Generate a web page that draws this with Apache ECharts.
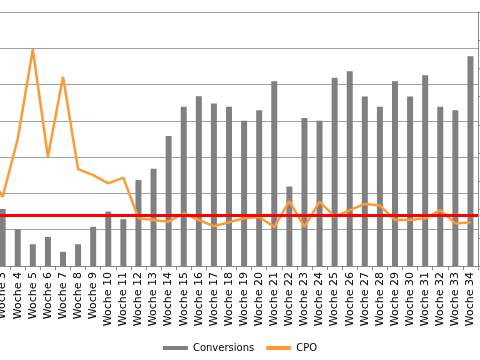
<!DOCTYPE html>
<html>
<head>
<meta charset="utf-8">
<script src="https://cdn.jsdelivr.net/npm/echarts@6/dist/echarts.min.js"></script>
<style>html,body{margin:0;padding:0;background:#fff;}#c{width:480px;height:360px;}</style>
</head>
<body>
<div id="c"></div>
<script>
var categories = ['Woche 2','Woche 3','Woche 4','Woche 5','Woche 6','Woche 7','Woche 8','Woche 9','Woche 10','Woche 11','Woche 12','Woche 13','Woche 14','Woche 15','Woche 16','Woche 17','Woche 18','Woche 19','Woche 20','Woche 21','Woche 22','Woche 23','Woche 24','Woche 25','Woche 26','Woche 27','Woche 28','Woche 29','Woche 30','Woche 31','Woche 32','Woche 33','Woche 34'];
var conversions = [null,15.7,10.1,6.0,8.0,3.9,6.0,10.8,15.0,12.9,23.7,26.8,35.8,43.9,46.8,44.8,43.9,40.0,42.9,50.9,21.9,40.8,40.0,51.9,53.7,46.7,43.9,50.9,46.7,52.6,43.9,42.9,57.8];
var cpo = [33.7,24.5,45.0,76.8,38.7,67.1,34.3,32.2,29.3,31.3,16.9,16.3,15.7,18.7,16.3,14.1,15.5,16.9,17.4,13.8,23.0,13.9,22.8,17.5,19.8,22.0,21.4,16.3,16.3,16.9,19.8,15.1,15.5];
var cpoTarget = 18;
var leftAxisTicks = [0,10,20,30,40,50,60,70];
var rightAxisTicks = [0,10,20,30,40,50,60,70,80,90];

var chart = echarts.init(document.getElementById('c'), null, {renderer:'canvas'});
chart.setOption({
  animation:false,
  backgroundColor:'#ffffff',
  textStyle:{fontFamily:'DejaVu Sans'},
  grid:{left:-20,right:2,top:12,bottom:94,containLabel:false,outerBoundsMode:'none'},
  legend:{
    top:338,left:'center',
    itemWidth:25,itemHeight:4,itemGap:12,
    textStyle:{fontSize:10,color:'#000',fontFamily:'DejaVu Sans'},
    data:[{name:'Conversions',icon:'rect'},{name:'CPO',icon:'rect'}]
  },
  xAxis:{
    type:'category',data:categories,boundaryGap:true,
    axisLine:{lineStyle:{color:'#888',width:1}},
    axisTick:{show:true,interval:0,length:4,lineStyle:{color:'#888'}},
    axisLabel:{interval:0,rotate:90,fontSize:11,color:'#000',margin:6,fontFamily:'DejaVu Sans'}
  },
  yAxis:[{
    type:'value',min:leftAxisTicks[0],max:leftAxisTicks[leftAxisTicks.length-1],interval:10,
    axisLabel:{show:false},axisTick:{show:false},axisLine:{show:false},
    splitLine:{lineStyle:{color:'#a0a0a0',width:1}}
  },{
    type:'value',position:'right',min:rightAxisTicks[0],max:rightAxisTicks[rightAxisTicks.length-1],interval:10,
    axisLabel:{show:false},
    axisTick:{show:true,inside:false,length:4,lineStyle:{color:'#888'}},
    axisLine:{show:true,lineStyle:{color:'#888',width:1}},
    splitLine:{show:false}
  }],
  series:[{
    name:'Conversions',type:'bar',yAxisIndex:0,data:conversions,barWidth:6,
    itemStyle:{color:'#808080'}
  },{
    name:'CPO',type:'line',yAxisIndex:1,data:cpo,showSymbol:false,symbol:'none',
    lineStyle:{color:'#ff9a36',width:2.5},itemStyle:{color:'#ff9a36'},
    markLine:{silent:true,symbol:['none','none'],label:{show:false},
      lineStyle:{color:'#ff0000',width:3,type:'solid'},
      data:[{yAxis:cpoTarget}]}
  }]
});
</script>
</body>
</html>
